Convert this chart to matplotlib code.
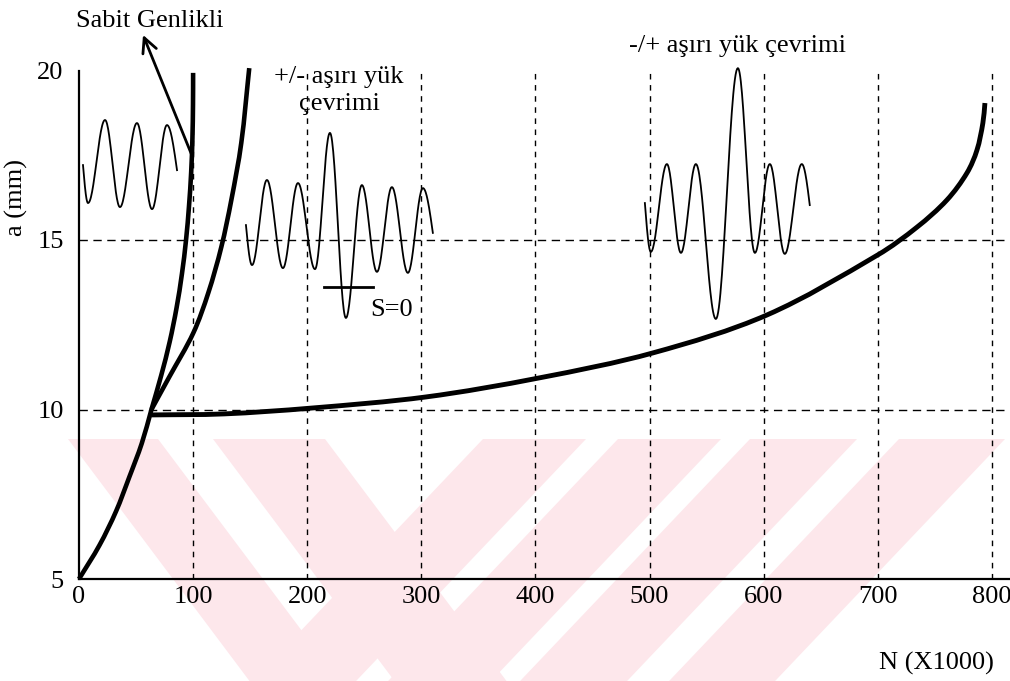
import numpy as np
import matplotlib
matplotlib.use("Agg")
import matplotlib.pyplot as plt
from matplotlib.patches import Polygon, PathPatch
from matplotlib.path import Path

plt.rcParams['font.family'] = ['Liberation Serif', 'DejaVu Serif']

# ---------------- data ----------------
x_ticks = [0, 100, 200, 300, 400, 500, 600, 700, 800]
y_ticks = [5, 10, 15, 20]
grid_x = [100, 200, 300, 400, 500, 600, 700, 800]
grid_y = [10, 15]

# constant amplitude (Sabit Genlikli)
sabit_N = [0, 18, 32.5, 44, 55, 63.5, 72, 79.5, 85.5, 90.2, 93.8, 96.4, 98.3, 99.4, 99.9, 100]
sabit_a = [5, 6, 7, 8, 9, 10, 11, 12, 13, 14, 15, 16, 17, 18, 19, 19.93]

# +/- overload cycle
pm_N = [63.5, 79.1, 100.2, 113.3, 124.7, 133.5, 142.2, 149.2]
pm_a = [10.0, 10.96, 12.26, 13.44, 14.79, 16.18, 17.86, 20.07]

# -/+ overload cycle
mp_N = [63.3, 127, 203, 304, 403, 503, 603, 700, 734.4, 760.6, 778.2, 786.9, 792.1, 793.9]
mp_a = [9.84, 9.87, 10.04, 10.37, 10.93, 11.67, 12.79, 14.56, 15.38, 16.18, 16.98, 17.65, 18.45, 19.04]

# schematic load histories (extremum points)
w1_x = [3.5, 7.9, 22.8, 35.9, 50.8, 64.0, 77.1, 85.9]
w1_y = [17.21, 16.09, 18.54, 15.97, 18.45, 15.91, 18.39, 17.06]
w2_x = [146.3, 151.6, 164.7, 178.7, 191.9, 206.8, 219.9, 233.9, 247.9, 261.1, 274.2, 288.2, 301.4, 310.1]
w2_y = [15.44, 14.26, 16.77, 14.17, 16.68, 14.14, 18.16, 12.70, 16.62, 14.06, 16.56, 14.03, 16.53, 15.21]
w3_x = [495.9, 501.1, 515.2, 527.5, 540.6, 558.1, 577.4, 592.3, 605.4, 618.5, 633.4, 640.4]
w3_y = [16.09, 14.65, 17.24, 14.62, 17.24, 12.67, 20.07, 14.62, 17.24, 14.59, 17.24, 16.03]
s0_x = [214.6, 257.6]
s0_y = [13.61, 13.61]

FS = 19

fig = plt.figure(figsize=(10.1, 6.81), dpi=100)
W, H = 1010, 681

# ---- watermark (light pink diagonal bands), figure pixel coords ----
wm_col = '#fde7eb'
top = 439
bot = 681
def band(x0, x1, slope):
    d = (bot - top) * slope
    pts = [(x0, top), (x1, top), (x1 + d, bot), (x0 + d, bot)]
    return [(px / W, 1 - py / H) for px, py in pts]
for (a, b, s) in [(68, 158, 0.75), (213, 325, 0.75), (483, 586, -0.95),
                  (618, 721, -0.95), (750, 857, -0.95), (899, 1005, -0.95)]:
    fig.add_artist(Polygon(band(a, b, s), closed=True, transform=fig.transFigure,
                           facecolor=wm_col, edgecolor='none', zorder=-5))

ax = fig.add_axes([79 / W, (H - 579) / H, 930 / W, (579 - 70.5) / H])
ax.patch.set_alpha(0)
ax.set_xlim(0, 815)
ax.set_ylim(5, 20)

for s in ['top', 'right']:
    ax.spines[s].set_visible(False)
for s in ['left', 'bottom']:
    ax.spines[s].set_linewidth(1.6)

ax.set_xticks(x_ticks)
ax.set_xticklabels([str(v) for v in x_ticks], fontsize=FS)
ax.set_yticks(y_ticks)
ax.set_yticklabels([str(v) for v in y_ticks], fontsize=FS)
ax.tick_params(axis='x', length=0, pad=5)
ax.tick_params(axis='y', length=0, pad=11)

# grid
ax.vlines(grid_x, 5, 20, colors='k', linestyles=(0, (4, 4)), linewidth=1.0, zorder=1)
for gy in grid_y:
    ax.axhline(gy, color='k', linestyle=(0, (6, 4)), linewidth=1.0, zorder=1)

# smooth curve through the read points (cubic Bezier path, chord-length tangents)
SX, SY = 1.1414, 33.9
def smooth_curve(xs, ys, lw):
    P = np.column_stack([np.asarray(xs, float) * SX, np.asarray(ys, float) * SY])
    d = np.linalg.norm(np.diff(P, axis=0), axis=1)
    t = np.concatenate([[0], np.cumsum(d)])
    m = np.zeros_like(P)
    m[0] = (P[1] - P[0]) / d[0]
    m[-1] = (P[-1] - P[-2]) / d[-1]
    for i in range(1, len(P) - 1):
        m[i] = (P[i + 1] - P[i - 1]) / (t[i + 1] - t[i - 1])
    verts = [P[0]]
    codes = [Path.MOVETO]
    for i in range(len(P) - 1):
        dt = d[i]
        verts += [P[i] + m[i] * dt / 3, P[i + 1] - m[i + 1] * dt / 3, P[i + 1]]
        codes += [Path.CURVE4] * 3
    V = np.array(verts) / np.array([SX, SY])
    patch = PathPatch(Path(V, codes), facecolor='none', edgecolor='k', lw=lw,
                      capstyle='butt', joinstyle='round', clip_on=False, zorder=3)
    ax.add_patch(patch)

smooth_curve(sabit_N, sabit_a, 3.3)
smooth_curve(pm_N, pm_a, 3.3)
smooth_curve(mp_N, mp_a, 3.5)

# schematic waves
def draw_wave(xs, ys, n=30):
    X, Y = [], []
    m = len(xs) - 1
    for i in range(m):
        t = np.linspace(0, 1, n)
        x0, x1, y0, y1 = xs[i], xs[i + 1], ys[i], ys[i + 1]
        if i == 0:
            f = np.sin(np.pi / 2 * t)
        elif i == m - 1:
            f = 1 - np.cos(np.pi / 2 * t)
        else:
            f = (1 - np.cos(np.pi * t)) / 2
        X.extend(x0 + (x1 - x0) * t)
        Y.extend(y0 + (y1 - y0) * f)
    ax.plot(X, Y, color='k', lw=1.3, clip_on=False, zorder=4)

draw_wave(w1_x, w1_y)
draw_wave(w2_x, w2_y)
draw_wave(w3_x, w3_y)
ax.plot(s0_x, s0_y, color='k', lw=2.0, zorder=4)

# texts
ax.text(255, 12.76, 'S=0', fontsize=FS, ha='left', va='baseline')
ax.text(227.8, 19.63, '+/- aşırı yük', fontsize=FS, ha='center', va='baseline', clip_on=False)
ax.text(227.8, 18.83, 'çevrimi', fontsize=FS, ha='center', va='baseline', clip_on=False)
ax.text(577, 20.55, '-/+ aşırı yük çevrimi', fontsize=FS, ha='center', va='baseline', clip_on=False)
ax.text(62, 21.28, 'Sabit Genlikli', fontsize=FS, ha='center', va='baseline', clip_on=False)
ax.annotate('', xy=(56.1, 21.05), xytext=(99.5, 17.45),
            arrowprops=dict(arrowstyle='->', lw=2.0, color='k', mutation_scale=26,
                            shrinkA=0, shrinkB=0),
            annotation_clip=False)
ax.text(751.7, 2.32, 'N (X1000)', fontsize=FS, ha='center', va='baseline', clip_on=False)
ax.text(-55.2, 16.25, 'a (mm)', fontsize=FS, rotation=90, ha='center', va='center', clip_on=False)

fig.savefig('out.png', dpi=100)
